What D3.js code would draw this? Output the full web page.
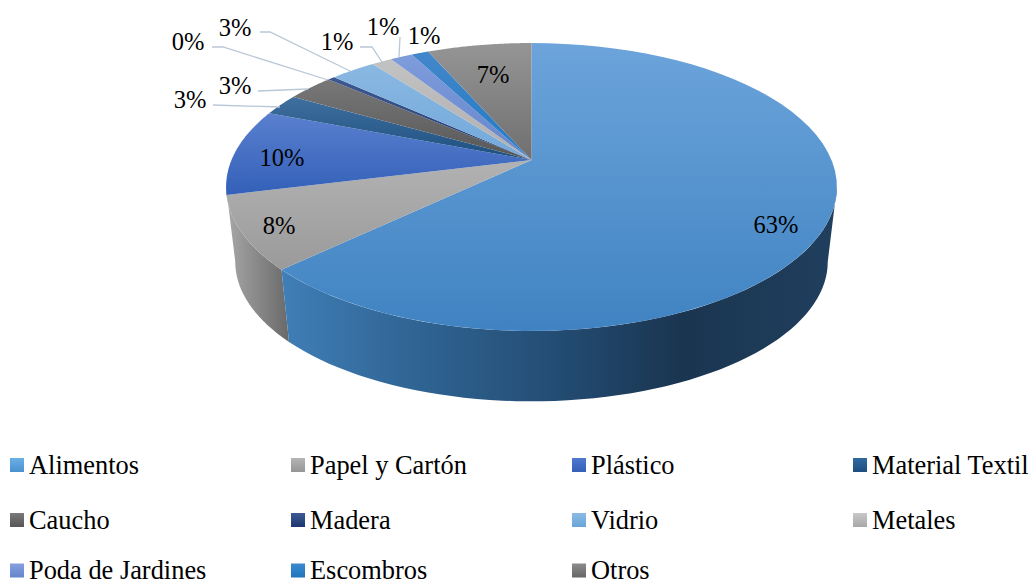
<!DOCTYPE html>
<html><head><meta charset="utf-8">
<script src="https://cdn.jsdelivr.net/npm/d3@7"></script>
<style>html,body{margin:0;padding:0;background:#fff}svg{display:block}text{font-family:"Liberation Serif","Times New Roman",serif;fill:#000}</style>
</head><body><svg id="c" width="1035" height="585"></svg>
<script>
const categories=["Alimentos","Papel y Cartón","Plástico","Material Textil","Caucho","Madera","Vidrio","Metales","Poda de Jardines","Escombros","Otros"];
const values=[62.8,8.2,9.7,2.4,3,0.45,2.85,1.3,1.4,1.1,6.6];
const valueLabels=["63%","8%","10%","3%","3%","0%","3%","1%","1%","1%","7%"];
const topLight=["#6ca4db","#b2b2b2","#5a80cf","#3f6f9e","#787878","#3f5a92","#8ab8e2","#c2c2c2","#7f9cdb","#4487cb","#959595"];
const topDark=["#4083c2","#9a9a9a","#3360b8","#1c4f80","#575757","#1f3a72","#72a8da","#afafaf","#6485cc","#2079c4","#6f6f6f"];
const legendLight=["#6bb0e6","#b5b5b5","#5078cf","#2f6a9e","#7a7a7a","#3f5a92","#8abbe5","#c8c8c8","#86a0dc","#3b8ad0","#8c8c8c"];
const legendDark=["#4a90cf","#959595","#3360b8","#1c4f80","#565656","#1c3570","#6aa5d8","#a8a8a8","#6485cc","#1f75bd","#666666"];
const labelX=[776,279,282,190,235,188,235,337,383,424,493];
const labelY=[225,226,158,100,86,42,28,42,27,36,75];
const leaders=[null,null,null,
 [[213,105],[280,107]],
 [[258,91],[308,89]],
 [[212,47],[223,47],[328,80]],
 [[260,32],[270,32],[350,71]],
 [[360,47],[372,47],[382,62]],
 [[400,37],[399,57]],null,null];
const legendCols=[8,289,570,851], legendRows=[465,520,570.5];

const svg=d3.select("#c"), defs=svg.append("defs");
const apex={x:531.5,y:160};
const persp=-0.1875, ay=138.9, ax=300, wallS=0.97, wallY=235.5;
const proj=(t)=>{const x=Math.sin(t),y=-Math.cos(t),w=1+persp*y;return [ax*x/w,ay*y/w];};
const topPt=t=>{const p=proj(t);return [apex.x+p[0],apex.y+p[1]];};
const botPt=t=>{const p=proj(t);return [apex.x+wallS*p[0],wallY+wallS*p[1]];};
const arcs=d3.pie().sort(null).value(d=>d)(values);
const line=d3.line();
const sample=(a,b,f)=>d3.range(0,61).map(i=>f(a+(b-a)*i/60));
// the rim is widest where the projected tangent is vertical
const tangentOffset=Math.acos(-persp);

function vgrad(id,c1,c2){const g=defs.append("linearGradient").attr("id",id).attr("x1",0).attr("x2",0).attr("y1",0).attr("y2",1);
 g.append("stop").attr("offset",0).attr("stop-color",c1);g.append("stop").attr("offset",1).attr("stop-color",c2);}
categories.forEach((c,i)=>{vgrad("t"+i,topLight[i],topDark[i]);vgrad("l"+i,legendLight[i],legendDark[i]);});
const wA=defs.append("linearGradient").attr("id","wA").attr("gradientUnits","userSpaceOnUse").attr("x1",283).attr("x2",835).attr("y1",0).attr("y2",0);
[[0,"#3f7eb6"],[0.25,"#2f6392"],[0.5,"#234c73"],[0.72,"#1a3550"],[1,"#203f5e"]].forEach(s=>wA.append("stop").attr("offset",s[0]).attr("stop-color",s[1]));
const wP=defs.append("linearGradient").attr("id","wP").attr("gradientUnits","userSpaceOnUse").attr("x1",228).attr("x2",288).attr("y1",0).attr("y2",0);
[[0,"#a6a6a6"],[1,"#6a6a6a"]].forEach(s=>wP.append("stop").attr("offset",s[0]).attr("stop-color",s[1]));

// walls: only the visible front of the rim, from each silhouette tangent
const wallRange=[[Math.PI/2+(Math.PI/2-tangentOffset),arcs[0].endAngle],[arcs[1].startAngle,3*Math.PI/2-(Math.PI/2-tangentOffset)]];
[1,0].forEach(i=>{const r=wallRange[i];
 const pts=sample(r[0],r[1],topPt).concat(sample(r[1],r[0],botPt));
 svg.append("path").attr("d",line(pts)+"Z").attr("fill",i==0?"url(#wA)":"url(#wP)");});
// top faces
arcs.forEach((a,i)=>{
 const pts=[[apex.x,apex.y]].concat(sample(a.startAngle,a.endAngle,topPt));
 svg.append("path").attr("d",line(pts)+"Z").attr("fill",`url(#t${i})`);});
// leaders
leaders.forEach(l=>{if(l)svg.append("path").attr("d",line(l)).attr("fill","none").attr("stroke","#b9c7d8").attr("stroke-width",1.3);});
// labels
valueLabels.forEach((v,i)=>svg.append("text").attr("x",labelX[i]).attr("y",labelY[i]).attr("dy","0.33em").attr("text-anchor","middle").attr("font-size",24.5).text(v));
// legend
categories.forEach((c,i)=>{const x=legendCols[i%4],y=legendRows[Math.floor(i/4)];
 svg.append("rect").attr("x",x+2).attr("y",y-7).attr("width",14).attr("height",14).attr("fill",`url(#l${i})`);
 svg.append("text").attr("x",x+21).attr("y",y).attr("dy","0.33em").attr("font-size",26.4).text(c);});
</script></body></html>
